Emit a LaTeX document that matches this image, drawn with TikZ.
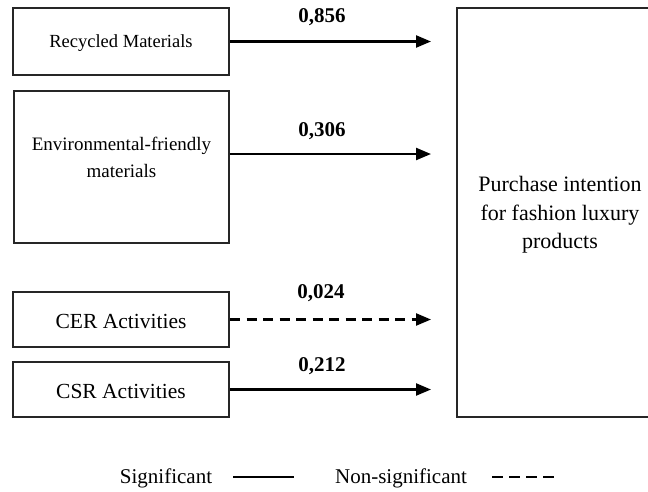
\documentclass[tikz,border=0pt]{standalone}
\usepackage{fontspec}
\setmainfont{Liberation Serif}
\usetikzlibrary{arrows.meta}
\begin{document}
\begin{tikzpicture}[x=1pt,y=-1pt,
  box/.style={draw=black!85,line width=2pt,inner sep=0pt},
  lbl/.style={font=\fontsize{21}{24}\selectfont\bfseries},
  conn/.style={line width=2.3pt,-{Triangle[length=15pt,width=12pt]}},
  nsconn/.style={conn,dash pattern=on 10pt off 6.5pt},
  txt/.style={align=center}]
\useasboundingbox (0,0) rectangle (648,491);
\fill[white] (0,0) rectangle (648,491);
\node[box,minimum width=216pt,minimum height=67pt] (rm) at (121,41.5) {};
\node[font=\fontsize{18.5}{21}\selectfont] (rmt) at (121,43.5) {Recycled Materials};
\node[box,minimum width=215pt,minimum height=152pt] (ef) at (121.5,167) {};
\node[txt,font=\fontsize{19}{27}\selectfont] (eft) at (121.5,157) {Environmental-friendly\\materials};
\node[box,minimum width=216pt,minimum height=55pt] (cer) at (121,319.5) {};
\node[font=\fontsize{21.5}{24}\selectfont] (cert) at (121,321.5) {CER Activities};
\node[box,minimum width=216pt,minimum height=55pt] (csr) at (121,389.5) {};
\node[font=\fontsize{21.5}{24}\selectfont] (csrt) at (121,391.5) {CSR Activities};
\draw[box] (457,8) rectangle (660,417);
\node[txt,font=\fontsize{22}{28.5}\selectfont] (pi) at (560,215) {Purchase intention\\for fashion luxury\\products};
\coordinate (t1) at (431,41.5);
\coordinate (t2) at (431,154);
\coordinate (t3) at (431,319.5);
\coordinate (t4) at (431,389.5);
\draw[conn] (rm.east |- t1) -- (t1);
\draw[conn] (ef.east |- t2) -- (t2);
\draw[nsconn] (cer.east) -- (t3);
\draw[conn] (csr.east) -- (t4);
\node[lbl] (l1) at (322,17) {0,856};
\node[lbl] (l2) at (322,131) {0,306};
\node[lbl] (l3) at (321,293) {0,024};
\node[lbl] (l4) at (322,366) {0,212};
\node[font=\fontsize{21}{24}\selectfont] (sig) at (166,478) {Significant};
\coordinate (s1) at (233,477);
\coordinate (s2) at (294,477);
\draw[line width=2.3pt] (s1) -- (s2);
\node[font=\fontsize{21}{24}\selectfont] (nsig) at (401,478) {Non-significant};
\coordinate (n1) at (492,477);
\coordinate (n2) at (555,477);
\draw[line width=2.8pt,dash pattern=on 11pt off 6pt] (n1) -- (n2);
\end{tikzpicture}
\end{document}
